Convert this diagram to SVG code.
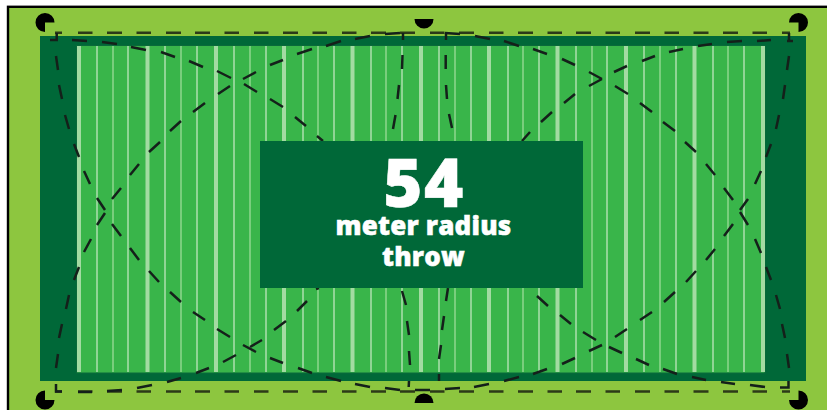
<svg xmlns="http://www.w3.org/2000/svg" width="827" height="410" viewBox="0 0 827 410">
<style>
.thick{stroke:#a3dba2;stroke-width:4;fill:none}
.thin1{stroke:#bfe6bd;stroke-width:1.3;fill:none}
.thin2{stroke:#8fd68e;stroke-width:1.5;fill:none}
.arc{stroke:#14201a;stroke-width:2.5;fill:none}
.perim{stroke:#2c3a18;stroke-width:2.4;fill:none}
.head{fill:#000}
text{font-family:"Open Sans","Noto Sans",sans-serif;font-weight:800;fill:#fff;stroke:#fff;stroke-width:0.5;text-anchor:middle}
</style>
<rect width="827" height="410" fill="#fff"/>
<rect id="ground" x="8" y="6.8" width="830" height="420" fill="#8dc63f" stroke="#000" stroke-width="2.4"/>
<rect id="apron" x="40" y="36" width="766" height="345" fill="#006838"/>
<g id="field">
<rect x="76.5" y="45.5" width="688.5" height="327.5" fill="#39b54a" stroke="#0a6a3a" stroke-width="1"/>
<path class="thin1" d="M97 46V372M128 46V372M165 46V372M197 46V372M234 46V372M266 46V372M303 46V372M334 46V372M371 46V372M402 46V372M439 46V372M471 46V372M508 46V372M539 46V372M576 46V372M607 46V372M644 46V372M676 46V372M713 46V372M744 46V372"/>
<path class="thin2" d="M113 46V372M181 46V372M250 46V372M318 46V372M386 46V372M455 46V372M523 46V372M592 46V372M660 46V372M728 46V372"/>
<path class="thick" d="M79 46V372M147.500 46V372M216 46V372M284 46V372M352.500 46V372M421 46V372M489 46V372M557.500 46V372M626 46V372M694.500 46V372M763 46V372"/>
</g>
<g id="connectors">
<path class="perim" d="M55 32.700H62M78 32.700H92.500M107 32.700H122M136.500 32.700H151M166 32.700H181M195 32.700H210M224.500 32.700H239M254 32.700H268.500M283 32.700H298M312.500 32.700H327M342 32.700H356.500M371 32.700H386M400 32.700H415M430 32.700H444.500M459 32.700H474M489 32.700H503.500M518 32.700H533M547.500 32.700H562M576 32.700H591M605.500 32.700H620M635 32.700H650M664.500 32.700H679M693.500 32.700H708.500M723 32.700H738M752.500 32.700H767M782 32.700H790"/>
<path class="perim" d="M55 391.500H62M78 391.500H92.500M107 391.500H122M136.500 391.500H151M166 391.500H181M195 391.500H210M224.500 391.500H239M254 391.500H268.500M283 391.500H298M312.500 391.500H327M342 391.500H356.500M371 391.500H386M400 391.500H415M430 391.500H444.500M459 391.500H474M489 391.500H503.500M518 391.500H533M547.500 391.500H562M576 391.500H591M605.500 391.500H620M635 391.500H650M664.500 391.500H679M693.500 391.500H708.500M723 391.500H738M752.500 391.500H767M782 391.500H790"/>
<path class="arc" d="M50 40H56.700V33M72 40L87 41M102 42L117 44M131 47L146 50M161 52L175 57M189 61L203 67M217 71L231 78M244 84L257 92M270 99L283 107M295 117L306 126M317 136L323 141M402 291L406 305M407 321L409 335M409 351L410 365M409 381L408.700 387"/>
<path class="arc" d="M56 56L58 70M59 85L62 99M65 115L69 129M74 144L79 157M84 171L90 184M97 198L105 210M112 224L121 236M130 248L139 260M149 271L159 282M170 292L181 302M193 312L205 320M217 329L230 337M243 345L256 352M270 358L283 363M298 368L312 373M326 377L341 381M355 384L370 387M385 388L400 390M415 390L430 390M445 389L460 388M474 387L489 384M504 381L519 377M533 374L547 369M562 364L575 358M589 351L602 345M615 337L627 329M640 320L652 312M664 302L675 292M686 282L696 271M706 260L715 249M724 236L733 224M740 210L748 199"/>
<path class="arc" d="M112 199L121 188M130 175L139 164M149 152L160 142M170 131L181 121M193 112L205 103M218 94L230 86M243 79L256 72M270 65L283 60M297 54L312 49M326 46L341 41M355 39L370 36M385 34L400 33M445 33L460 34M475 36L490 39M504 41L519 46M533 49L547 54M562 59L575 65M589 72L602 79M615 86L628 94M640 103L652 112M663 122L675 131M685 142L696 152M706 164L715 175M724 188L733 200M740 212L748 225M755 239L761 253M766 267L771 280M776 295L780 309M782 324L785 338M787 354L789 368M780 387.500H788.500V381"/>
<path class="arc" d="M105 213L97 225M91 239L84 252M79 267L74 280M69 295L66 309M62 324L59 338M58 354L56 368M56 384V391.500H62M78 392L92 392M107 391L122 390M137 388L152 385M167 382L181 378M196 373L209 368M223 362L236 355M250 347L262 340M274 330L286 321M297 311L307 301M316 289L319 288"/>
<path class="arc" d="M403 33V40M402.500 55L402 69M399 85L397.500 99M395.500 115L393 129"/>
<path class="arc" d="M446 33V40M445.700 55V69M446 85L447 99M449 114L452 128"/>
<path class="arc" d="M448 288L446 301M444 316L442 330M441 345L439 359M439 374V381M537 296L548 306M560 315L571 324M583 332L596 340M609 347L622 353M636 359L649 365M663 369L677 374M692 377L706 380M721 382L735 384M750 385L765 387"/>
<path class="arc" d="M789 33V41M787 41H793M771 40L757 41M742 41L727 42M712 44L698 46M683 49L669 52M655 56L642 61M627 66L614 72M602 79L589 86M575 94L564 103M552 112L541 122M530 132L522 141M789 56L787 70M785 85L783 99M779 115L776 129M771 144L766 157M761 171L755 184"/>
</g>
<g id="sprinkler-tl"><path class="head" d="M45 22.500H54.500A9.500 9.500 0 1 0 45 32Z"/></g>
<g id="sprinkler-tr"><path class="head" d="M798.500 22.500V32A9.500 9.500 0 1 0 789 22.500Z"/></g>
<g id="sprinkler-bl"><path class="head" d="M45 400V390.500A9.500 9.500 0 1 0 54.500 400Z"/></g>
<g id="sprinkler-br"><path class="head" d="M798.500 400H789A9.500 9.500 0 1 0 798.500 390.500Z"/></g>
<g id="sprinkler-tc"><path class="head" d="M414.500 19H433.500A9.500 9.500 0 0 1 414.500 19Z"/></g>
<g id="sprinkler-bc"><path class="head" d="M414.500 403H433.500A9.500 9.500 0 0 0 414.500 403Z"/></g>
<g id="label">
<rect x="260" y="141" width="323" height="147" fill="#006838"/>
<text x="424" y="207" font-size="67" letter-spacing="1.500">54</text>
<text x="423.500" y="235" font-size="26" letter-spacing="0.200">meter radius</text>
<text x="423.500" y="265.500" font-size="26" letter-spacing="0.200">throw</text>
</g>
</svg>
